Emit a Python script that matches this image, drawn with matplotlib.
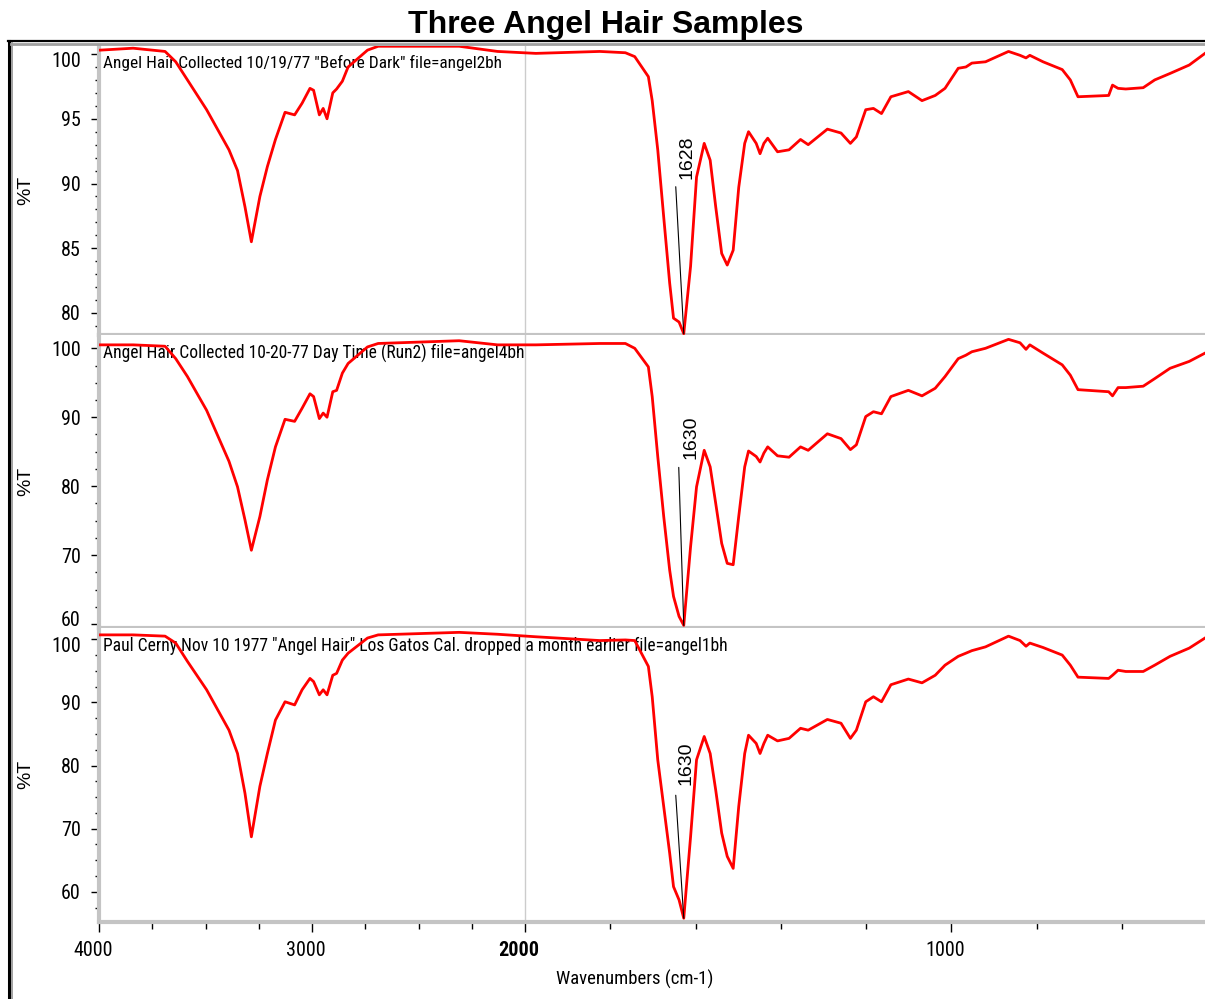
import numpy as np
import matplotlib
matplotlib.use('Agg')
import matplotlib.pyplot as plt
from matplotlib import font_manager
from matplotlib.lines import Line2D
from matplotlib.ticker import FixedLocator, MultipleLocator, FuncFormatter, NullFormatter
from matplotlib.transforms import ScaledTranslation

# wavenumber grid (cm-1) and %T
wavenumber = [3995, 3840, 3690, 3640, 3585, 3495, 3390, 3350, 3315, 3285,
              3245, 3210, 3172, 3127, 3082, 3047, 3010, 2993, 2966, 2948,
              2930, 2903, 2885, 2858, 2831, 2740, 2690, 2310, 2130, 1975,
              1825, 1765, 1743, 1711, 1702, 1689, 1675, 1661, 1652, 1639,
              1628, 1612, 1598, 1580, 1566, 1553, 1539, 1526, 1512, 1499,
              1485, 1476, 1458, 1449, 1440, 1431, 1408, 1381, 1354, 1336,
              1291, 1259, 1237, 1223, 1201, 1183, 1164, 1142, 1101, 1069,
              1038, 1015, 984, 966, 952, 920, 866, 839, 825, 816,
              785, 740, 721, 703, 631, 622, 609, 591, 550, 523,
              487, 442, 405]

t_angel2bh = [100.3, 100.45, 100.2, 99.4, 98.0, 95.7, 92.6, 91.0, 88.2, 85.5,
              89.0, 91.3, 93.4, 95.5, 95.3, 96.2, 97.35, 97.2, 95.3, 95.8,
              95.0, 97.0, 97.3, 97.9, 99.0, 100.3, 100.6, 100.6, 100.2, 100.05,
              100.2, 100.1, 99.8, 98.25, 96.4, 92.6, 87.4, 82.3, 79.6, 79.3,
              78.4, 83.6, 90.5, 93.1, 91.8, 88.2, 84.6, 83.7, 84.85, 89.7,
              93.1, 94.0, 93.1, 92.3, 93.1, 93.5, 92.45, 92.6, 93.4, 93.0,
              94.2, 93.9, 93.1, 93.6, 95.7, 95.8, 95.4, 96.7, 97.1, 96.4,
              96.8, 97.35, 98.9, 99.0, 99.3, 99.4, 100.2, 99.9, 99.7, 99.9,
              99.4, 98.8, 98.0, 96.7, 96.8, 97.6, 97.35, 97.3, 97.4, 98.0,
              98.5, 99.15, 100.05]

t_angel4bh = [100.5, 100.5, 100.3, 98.5, 95.9, 91.0, 83.6, 79.9, 75.1, 70.7,
              75.6, 80.9, 85.7, 89.7, 89.4, 91.3, 93.4, 93.0, 89.8, 90.6,
              90.0, 93.7, 93.9, 96.4, 97.8, 100.2, 100.7, 101.1, 100.5, 100.5,
              100.7, 100.7, 100.0, 97.3, 93.0, 84.3, 75.6, 67.8, 64.0, 61.1,
              59.8, 71.2, 79.9, 85.2, 82.8, 77.5, 71.7, 68.8, 68.6, 75.6,
              82.8, 85.1, 84.3, 83.5, 84.8, 85.7, 84.4, 84.2, 85.7, 85.2,
              87.6, 86.9, 85.3, 86.0, 90.1, 90.8, 90.5, 93.0, 93.9, 93.1,
              94.2, 95.9, 98.5, 99.0, 99.5, 100.0, 101.3, 100.8, 99.85, 100.5,
              99.3, 97.6, 96.1, 94.0, 93.7, 93.1, 94.3, 94.3, 94.5, 95.6,
              97.1, 98.1, 99.3]

t_angel1bh = [100.7, 100.7, 100.5, 99.4, 96.5, 92.0, 85.6, 81.9, 75.6, 68.7,
              76.7, 81.9, 87.2, 90.1, 89.6, 92.0, 93.8, 93.3, 91.2, 92.0,
              91.2, 94.3, 94.6, 96.7, 97.8, 100.2, 100.7, 101.1, 100.8, 100.4,
              99.8, 99.9, 99.8, 95.7, 90.9, 80.9, 73.5, 66.1, 60.8, 58.7,
              55.8, 68.7, 80.9, 84.6, 81.9, 76.1, 69.3, 65.6, 63.7, 73.5,
              81.9, 84.8, 83.5, 81.9, 83.5, 84.8, 83.9, 84.3, 85.9, 85.6,
              87.3, 86.7, 84.3, 85.6, 90.1, 90.9, 90.1, 92.8, 93.7, 93.1,
              94.3, 95.9, 97.3, 97.8, 98.2, 98.8, 100.5, 99.8, 98.9, 99.4,
              98.7, 97.5, 95.9, 94.0, 93.8, 94.3, 95.1, 94.9, 94.9, 95.9,
              97.3, 98.6, 100.2]

notes = ['Angel Hair Collected 10/19/77 "Before Dark" file=angel2bh',
         'Angel Hair Collected 10-20-77 Day Time (Run2) file=angel4bh',
         'Paul Cerny Nov 10 1977 "Angel Hair" Los Gatos Cal. dropped a month earlier file=angel1bh']
peak_wn = [1628, 1628, 1628]
peak_labels = ['1628', '1630', '1630']
y_major = [[80, 85, 90, 95, 100], [60, 70, 80, 90, 100], [60, 70, 80, 90, 100]]
y_minor_step = [1, 2.5, 2.5]
x_major = [4000, 3000, 2000, 1000]
x_minor = [3750, 3500, 3250, 2750, 2500, 2250, 1800, 1600, 1400, 1200, 800, 600]

# the source uses a condensed face; take one if installed
names = {f.name for f in font_manager.fontManager.ttflist}
plain = 'Liberation Sans'
narrow, k = plain, 0.86
for cand in ['Liberation Sans Narrow', 'Roboto Condensed', 'Open Sans Condensed', 'Arial Narrow']:
    if cand in names:
        narrow, k = cand, 1.0
        break


# OMNIC style axis: region above 2000 cm-1 compressed by half
def fwd(x):
    x = np.asarray(x, dtype=float)
    return np.where(x > 2000, 2000 + (x - 2000) * 0.5, x)


def inv(x):
    x = np.asarray(x, dtype=float)
    return np.where(x > 2000, 2000 + (x - 2000) * 2.0, x)


W, H = 1205, 999
fig = plt.figure(figsize=(W / 100, H / 100), dpi=100)


def box(l, t, r, b):
    return [l / W, 1 - b / H, (r - l) / W, (b - t) / H]


panels = [(46, 335), (335, 628), (628, 921.7)]
ylims = [(78.3, 100.62), (59.42, 101.93), (55.25, 101.79)]
series = [t_angel2bh, t_angel4bh, t_angel1bh]
line_off = [(-8, 147), (-5, 158), (-8, 123)]
label_off = [(3, 155), (7, 166), (2, 133)]
note_width = [401, 425, 629]
grey = '#c4c4c4'
tick_fs = 14.5 * k

axes = []
note_texts = []
for i, (top, bot) in enumerate(panels):
    ax = fig.add_axes(box(99, top, W, bot))
    ax.set_xscale('function', functions=(fwd, inv))
    ax.plot(wavenumber, series[i], color='#ff0000', lw=2.0, zorder=3)
    ax.axvline(2000, color='#cccccc', lw=1, zorder=1)
    ax.set_xlim(4000, 405)
    ax.set_ylim(*ylims[i])

    for s in ['top', 'right']:
        ax.spines[s].set_visible(False)
    for s in ['left', 'bottom']:
        ax.spines[s].set_color(grey)
        ax.spines[s].set_linewidth(3)

    ax.yaxis.set_major_locator(FixedLocator(y_major[i]))
    ax.yaxis.set_minor_locator(MultipleLocator(y_minor_step[i]))
    ax.tick_params(axis='y', which='major', length=6, width=1, color='black',
                   pad=7, labelsize=tick_fs, direction='out')
    ax.tick_params(axis='y', which='minor', length=3, width=1, color='black',
                   direction='out')

    ax.set_ylabel('%T', fontsize=14, family=plain)
    ax.yaxis.set_label_coords((34 - 99) / (W - 99), 0.5)

    # peak marker
    ymin = min(series[i])
    ax.annotate('', xy=(peak_wn[i], ymin), xytext=line_off[i],
                textcoords='offset pixels',
                arrowprops=dict(arrowstyle='-', color='black', lw=0.8,
                                shrinkA=0, shrinkB=0))
    ax.annotate(peak_labels[i], xy=(peak_wn[i], ymin), xytext=label_off[i],
                textcoords='offset pixels', rotation=90, ha='center',
                va='bottom', fontsize=14, family=plain)

    t = ax.annotate(notes[i], xy=(0, 1), xycoords='axes fraction',
                    xytext=(4, -9), textcoords='offset pixels', ha='left',
                    va='top', fontsize=14, family=narrow, zorder=2)
    note_texts.append(t)
    axes.append(ax)

for ax in axes[:2]:
    ax.tick_params(axis='x', which='both', bottom=False, labelbottom=False)

ax3 = axes[2]
ax3.xaxis.set_major_locator(FixedLocator(x_major))
ax3.xaxis.set_minor_locator(FixedLocator(x_minor))
ax3.xaxis.set_major_formatter(FuncFormatter(lambda v, p: '%d' % v))
ax3.xaxis.set_minor_formatter(NullFormatter())
ax3.tick_params(axis='x', which='major', length=7, width=1, color='black',
                pad=7, labelsize=tick_fs, direction='out')
ax3.tick_params(axis='x', which='minor', length=5, width=1, color='black',
                direction='out')
ax3.set_xlabel('Wavenumbers (cm-1)', fontsize=13.5 * k, family=narrow)
ax3.xaxis.set_label_coords((635 - 99) / (W - 99), -0.165)

fig.text(606 / W, 1 - 33 / H, 'Three Angel Hair Samples', ha='center',
         va='baseline', fontsize=23, fontweight='bold', family=plain)

# outer frame (black with grey inner edge), cut by the image edge
fig.add_artist(Line2D([8.5 / W, 8.5 / W], [0, 1 - 41 / H], color='black',
                      lw=2.2, transform=fig.transFigure))
fig.add_artist(Line2D([8 / W, 1], [1 - 41 / H, 1 - 41 / H], color='black',
                      lw=1.6, transform=fig.transFigure))
fig.add_artist(Line2D([11.5 / W, 11.5 / W], [0, 1 - 43 / H], color='#a0a0a0',
                      lw=1.4, transform=fig.transFigure))
fig.add_artist(Line2D([11 / W, 1], [1 - 44 / H, 1 - 44 / H], color='#a0a0a0',
                      lw=2.0, transform=fig.transFigure))

fig.canvas.draw()
rend = fig.canvas.get_renderer()

# squeeze the condensed sample notes to their width in the source
for t, w in zip(note_texts, note_width):
    cur = t.get_window_extent(rend).width
    t.set_fontsize(t.get_fontsize() * w / cur)


def nudge(lab, dx, dy):
    lab.set_transform(lab.get_transform() +
                      ScaledTranslation(dx / 100, dy / 100, fig.dpi_scale_trans))


# tick labels next to a panel edge are kept inside it, as in the source
for i, ax in enumerate(axes):
    labs = ax.get_yticklabels()
    for lab in labs:
        lab.set_fontfamily(narrow)
    if i in (0, 2):
        nudge(labs[-1], 0, -5)
    if i == 1:
        nudge(labs[0], 0, 6)

for lab in ax3.get_xticklabels():
    lab.set_fontfamily(narrow)
    nudge(lab, -6, 0)
    if lab.get_text() == '2000':
        lab.set_fontweight('bold')

fig.savefig('out.png', dpi=100)
